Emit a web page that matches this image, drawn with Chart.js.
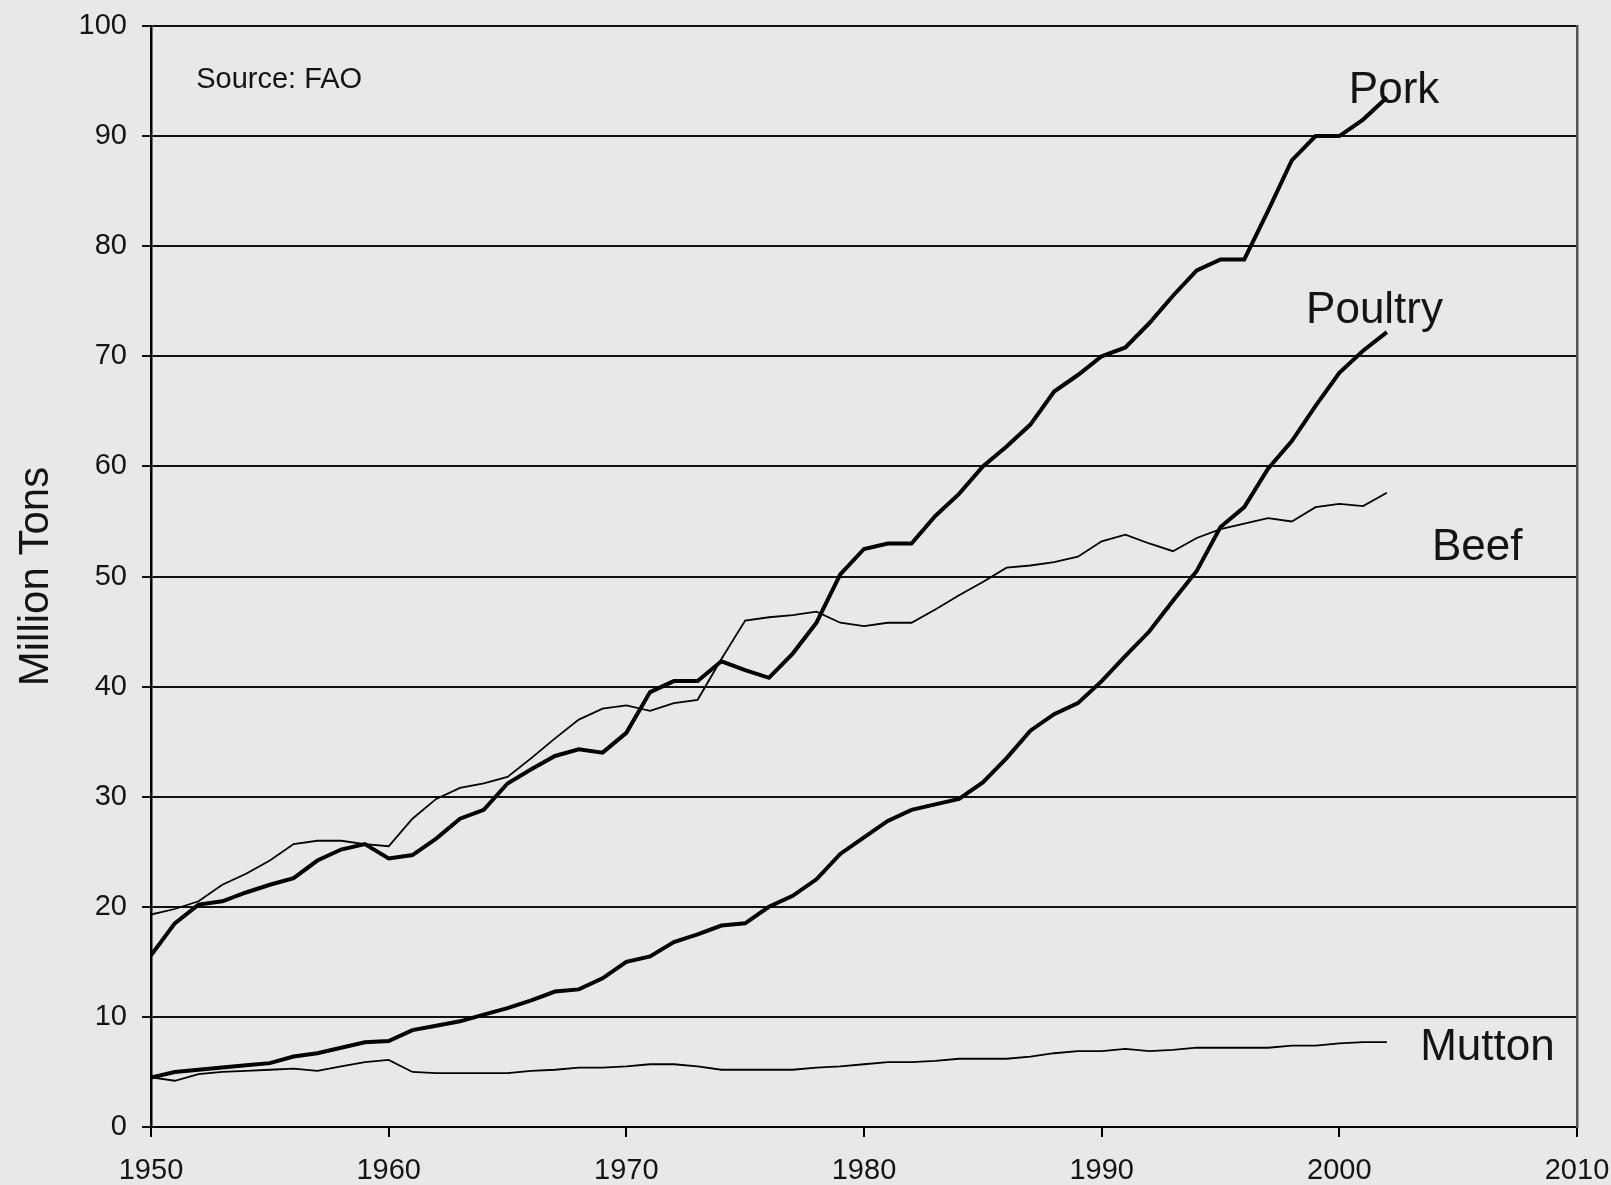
<!DOCTYPE html>
<html>
<head>
<meta charset="utf-8">
<title>World Meat Production</title>
<script src="https://cdn.jsdelivr.net/npm/chart.js@4/dist/chart.umd.min.js"></script>
<style>
  html, body { margin: 0; padding: 0; background: #e8e8e8; }
  #wrap { width: 1611px; height: 1185px; }
</style>
</head>
<body>
<div id="wrap"><canvas id="meat-chart" width="1611" height="1185"></canvas></div>
<script>
// Data, million tons
let years = [1950, 1951, 1952, 1953, 1954, 1955, 1956, 1957, 1958, 1959,
             1960, 1961, 1962, 1963, 1964, 1965, 1966, 1967, 1968, 1969,
             1970, 1971, 1972, 1973, 1974, 1975, 1976, 1977, 1978, 1979,
             1980, 1981, 1982, 1983, 1984, 1985, 1986, 1987, 1988, 1989,
             1990, 1991, 1992, 1993, 1994, 1995, 1996, 1997, 1998, 1999,
             2000, 2001, 2002]

let pork = [15.6, 18.5, 20.2, 20.5, 21.3, 22.0, 22.6, 24.2, 25.2, 25.7,
            24.4, 24.7, 26.2, 28.0, 28.8, 31.2, 32.5, 33.7, 34.3, 34.0,
            35.8, 39.5, 40.5, 40.5, 42.3, 41.5, 40.8, 43.0, 45.8, 50.2,
            52.5, 53.0, 53.0, 55.5, 57.5, 60.0, 61.8, 63.8, 66.8, 68.3,
            70.0, 70.8, 73.0, 75.5, 77.8, 78.8, 78.8, 83.2, 87.8, 90.0,
            90.0, 91.5, 93.5]

let poultry = [4.5, 5.0, 5.2, 5.4, 5.6, 5.8, 6.4, 6.7, 7.2, 7.7,
               7.8, 8.8, 9.2, 9.6, 10.2, 10.8, 11.5, 12.3, 12.5, 13.5,
               15.0, 15.5, 16.8, 17.5, 18.3, 18.5, 20.0, 21.0, 22.5, 24.8,
               26.3, 27.8, 28.8, 29.3, 29.8, 31.3, 33.5, 36.0, 37.5, 38.5,
               40.5, 42.8, 45.0, 47.8, 50.5, 54.5, 56.3, 59.8, 62.3, 65.5,
               68.5, 70.5, 72.2]

let beef = [19.3, 19.8, 20.5, 22.0, 23.0, 24.2, 25.7, 26.0, 26.0, 25.7,
            25.5, 28.0, 29.8, 30.8, 31.2, 31.8, 33.5, 35.3, 37.0, 38.0,
            38.3, 37.8, 38.5, 38.8, 42.5, 46.0, 46.3, 46.5, 46.8, 45.8,
            45.5, 45.8, 45.8, 47.0, 48.3, 49.5, 50.8, 51.0, 51.3, 51.8,
            53.2, 53.8, 53.0, 52.3, 53.5, 54.3, 54.8, 55.3, 55.0, 56.3,
            56.6, 56.4, 57.6]

let mutton = [4.5, 4.2, 4.8, 5.0, 5.1, 5.2, 5.3, 5.1, 5.5, 5.9,
              6.1, 5.0, 4.9, 4.9, 4.9, 4.9, 5.1, 5.2, 5.4, 5.4,
              5.5, 5.7, 5.7, 5.5, 5.2, 5.2, 5.2, 5.2, 5.4, 5.5,
              5.7, 5.9, 5.9, 6.0, 6.2, 6.2, 6.2, 6.4, 6.7, 6.9,
              6.9, 7.1, 6.9, 7.0, 7.2, 7.2, 7.2, 7.2, 7.4, 7.4,
              7.6, 7.7, 7.7]

let yTicks = [0, 10, 20, 30, 40, 50, 60, 70, 80, 90, 100]
let xTicks = [1950, 1960, 1970, 1980, 1990, 2000, 2010]

// Text placed in the plot (year / value of the text baseline-left)
let notes = [
  {text: 'Pork',        x: 2000.4, y: 93.0,  size: 44},
  {text: 'Poultry',     x: 1998.6, y: 73.0,  size: 44},
  {text: 'Beef',        x: 2003.9, y: 51.5,  size: 44},
  {text: 'Mutton',      x: 2003.4, y: 6.1,   size: 44},
  {text: 'Source: FAO', x: 1951.9, y: 94.35, size: 29}
]

const FONT = "'Liberation Sans', Arial, sans-serif"
const INK = '#141414'

function series (values) {
  return values.map(function (v, i) {
    return {x: years[i], y: v}
  })
}

function lineSet (label, values, width) {
  return {
    label      : label,
    data       : series(values),
    borderColor: '#000',
    borderWidth: width,
    pointRadius: 0,
    tension    : 0,
    fill       : false
  }
}

//No extra room for overflowing end labels, layout padding handles it
function noOverflow (scale) {
  scale.paddingTop = 0
  scale.paddingBottom = 0
  scale.paddingLeft = 0
  scale.paddingRight = 0
}

//Draws the series names and source note
let notesPlugin = {
  id: 'notes',
  afterDatasetsDraw: function (chart) {
    let ctx = chart.ctx,
        xs  = chart.scales.x,
        ys  = chart.scales.y
    ctx.save()
    ctx.fillStyle = INK
    ctx.textAlign = 'left'
    ctx.textBaseline = 'alphabetic'
    notes.forEach(function (n) {
      ctx.font = n.size + 'px ' + FONT
      ctx.fillText(n.text, xs.getPixelForValue(n.x), ys.getPixelForValue(n.y))
    })
    ctx.restore()
  }
}

let meatChart = new Chart(document.getElementById('meat-chart'), {
  type   : 'line',
  data   : {
    datasets: [
      lineSet('Pork', pork, 4),
      lineSet('Poultry', poultry, 4),
      lineSet('Beef', beef, 1.8),
      lineSet('Mutton', mutton, 1.8)
    ]
  },
  options: {
    responsive: false,
    animation : false,
    layout    : {padding: {top: 26, right: 34, left: 0, bottom: 0}},
    plugins   : {
      legend : {display: false},
      tooltip: {enabled: false}
    },
    scales    : {
      x : {
        type    : 'linear',
        min     : xTicks[0],
        max     : xTicks[xTicks.length - 1],
        afterBuildTicks: function (scale) {
          scale.ticks = xTicks.map(function (v) { return {value: v} })
        },
        afterFit: function (scale) {
          scale.height = 58
          noOverflow(scale)
        },
        ticks   : {
          color      : INK,
          font       : {family: FONT, size: 29},
          padding    : 17,
          maxRotation: 0,
          callback   : function (v) { return String(v) }
        },
        grid    : {
          drawOnChartArea: false,
          drawTicks      : true,
          tickLength     : 10,
          color          : '#000',
          lineWidth      : 2
        },
        border  : {display: true, color: '#000', width: 2}
      },
      y : {
        min     : 0,
        max     : 100,
        afterBuildTicks: function (scale) {
          scale.ticks = yTicks.map(function (v) { return {value: v} })
        },
        afterFit: function (scale) {
          scale.width = 151
          noOverflow(scale)
        },
        ticks   : {
          color  : INK,
          font   : {family: FONT, size: 29},
          padding: 15
        },
        grid    : {
          color     : '#111',
          lineWidth : 2,
          tickLength: 9
        },
        border  : {display: true, color: '#000', width: 2.5},
        title   : {
          display: true,
          text   : 'Million Tons',
          color  : INK,
          font   : {family: FONT, size: 42},
          padding: {top: 11, bottom: 0}
        }
      },
      y2: {
        position: 'right',
        min     : 0,
        max     : 100,
        afterFit: function (scale) {
          scale.width = 0
          noOverflow(scale)
        },
        ticks   : {display: false},
        grid    : {drawOnChartArea: false, drawTicks: false},
        border  : {display: true, color: '#555', width: 2.5}
      }
    }
  },
  plugins: [notesPlugin]
})
</script>
</body>
</html>
